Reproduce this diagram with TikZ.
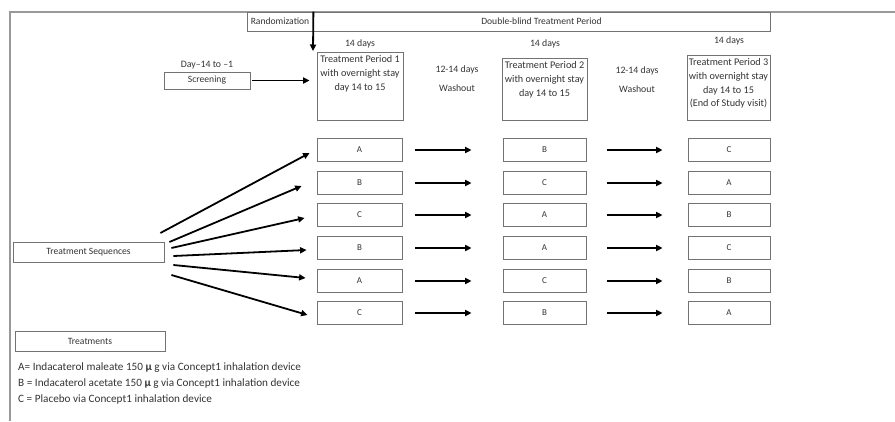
\documentclass[tikz,border=0pt]{standalone}
\usepackage{fontspec}
\setmainfont{Carlito}
\usetikzlibrary{arrows.meta}
\definecolor{boxline}{gray}{0.45}
\definecolor{frameline}{gray}{0.6}
\definecolor{txt}{gray}{0.2}
\tikzset{
  every node/.style={text=txt},
  box/.style={draw=boxline, line width=0.8pt, inner sep=0pt, font=\fontsize{9.6}{11}\selectfont},
  rowbox/.style={box, minimum height=23pt, font=\fontsize{9}{10}\selectfont},
  lbl/.style={inner sep=0pt, font=\fontsize{9.8}{11}\selectfont},
  tptext/.style={inner sep=0pt, anchor=north, align=center, font=\fontsize{10.2}{13.7}\selectfont},
  arr/.style={draw=black, line width=1.8pt, -{Triangle[length=6.5pt,width=6pt]}},
  legend/.style={inner sep=0pt, anchor=west, font=\fontsize{11.2}{13}\selectfont}
}
\begin{document}
\begin{tikzpicture}[x=1pt,y=-1pt]
\useasboundingbox (0,0) rectangle (895,421);
% frame
\coordinate (ftl) at (10,12);
\coordinate (ftr) at (895,12);
\coordinate (fbl) at (10,421);
\draw[frameline, line width=1.3pt] (ftr) -- (ftl) -- (fbl);
% top boxes
\node[box, minimum width=66pt, minimum height=19pt] (rand) at (280,21.5) {Randomization};
\node[box, minimum width=457pt, minimum height=19pt] (dbl) at (541.5,21.5) {Double-blind Treatment Period};
% treatment period boxes
\node[box, minimum width=86pt, minimum height=68pt] (tp1) at (360,86) {};
\node[box, minimum width=85pt, minimum height=62pt] (tp2) at (544.5,89) {};
\node[box, minimum width=83pt, minimum height=65pt] (tp3) at (728.5,87.5) {};
\node[tptext] (tp1t) at ([yshift=-4]tp1.north) {Treatment Period 1\\with overnight stay\\day 14 to 15};
\node[tptext] (tp2t) at ([yshift=-4]tp2.north) {Treatment Period 2\\with overnight stay\\day 14 to 15};
\node[tptext] (tp3t) at ([yshift=-4]tp3.north) {Treatment Period 3\\with overnight stay\\day 14 to 15\\(End of Study visit)};
\node[lbl] (d1) at (360,44) {14 days};
\node[lbl] (d2) at (545,44) {14 days};
\node[lbl] (d3) at (729,41) {14 days};
\node[lbl] (w1a) at (457,70) {12-14 days};
\node[lbl] (w1b) at (457,88) {Washout};
\node[lbl] (w2a) at (637,71) {12-14 days};
\node[lbl] (w2b) at (637,89) {Washout};
% screening
\node[lbl] (day) at (207,65) {Day\textendash14 to \textendash1};
\node[box, minimum width=86pt, minimum height=17pt] (scr) at (207,80.5) {Screening};
\coordinate (randend) at (313,51);
\draw[arr] (rand.north east) -- (randend);
\draw[arr, shorten <=2pt, shorten >=7pt] (scr.east) -- (tp1.west |- scr.east);
% sequence boxes
\foreach \i/\y/\a/\b/\c in {1/150/A/B/C, 2/183/B/C/A, 3/215/C/A/B, 4/248/B/A/C, 5/281/A/C/B, 6/313/C/B/A}{
  \node[rowbox, minimum width=85pt] (r\i a) at (359.5,\y) {\a};
  \node[rowbox, minimum width=83pt] (r\i b) at (544.5,\y) {\b};
  \node[rowbox, minimum width=82pt] (r\i c) at (729,\y) {\c};
  \draw[arr, shorten <=13pt, shorten >=31pt] (r\i a.east) -- (r\i b.west);
  \draw[arr, shorten <=21pt, shorten >=25pt] (r\i b.east) -- (r\i c.west);
}
% treatment sequences
\node[box, minimum width=151pt, minimum height=20pt] (ts) at (88.5,252) {Treatment Sequences};
\draw[arr] ([shift={(-4,-19)}]ts.east) -- ([shift={(-7,3)}]r1a.west);
\draw[arr] ([shift={(5,-10)}]ts.east) -- ([shift={(-15,3)}]r2a.west);
\draw[arr] ([shift={(7,-4)}]ts.east) -- ([shift={(-12,3)}]r3a.west);
\draw[arr] ([shift={(9,4)}]ts.east) -- ([shift={(-10,2)}]r4a.west);
\draw[arr] ([shift={(9,13)}]ts.east) -- ([shift={(-11,-3)}]r5a.west);
\draw[arr] ([shift={(7,23)}]ts.east) -- ([shift={(-9,2)}]r6a.west);
% legend
\node[box, minimum width=150pt, minimum height=20pt] (trt) at (90,341) {Treatments};
\node[legend] (la) at (18,368) {A= Indacaterol maleate 150 \textbf{μ} g via Concept1 inhalation device};
\node[legend] (lb) at (18,384) {B = Indacaterol acetate 150 \textbf{μ} g via Concept1 inhalation device};
\node[legend] (lc) at (18,400) {C = Placebo via Concept1 inhalation device};
\end{tikzpicture}
\end{document}
